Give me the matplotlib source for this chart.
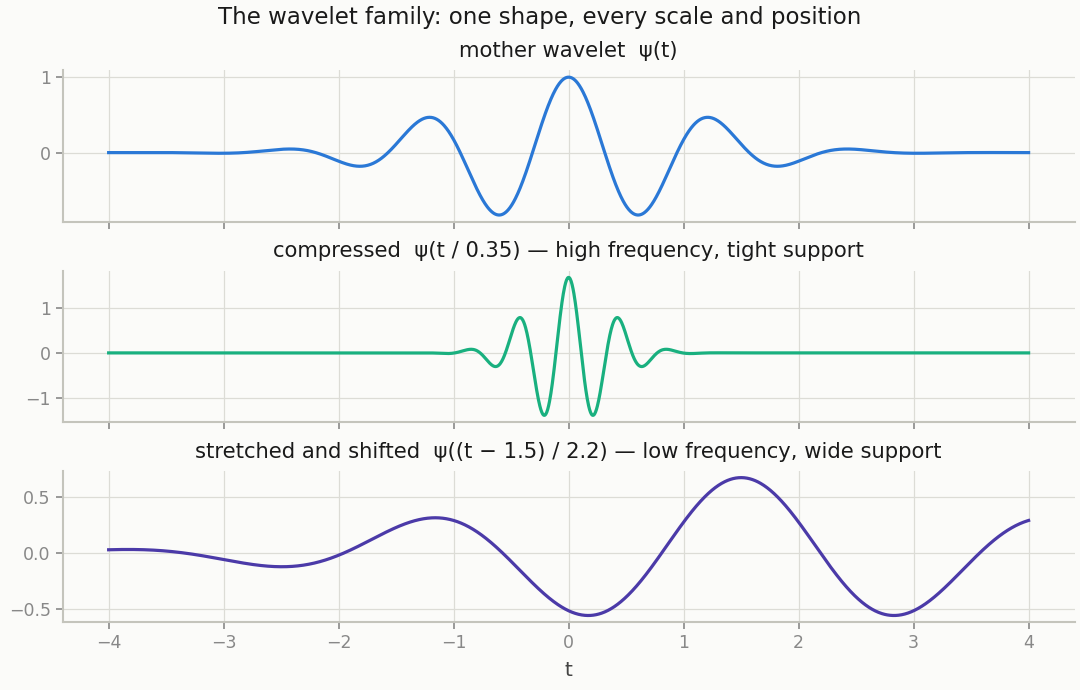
import numpy as np
import matplotlib
matplotlib.use("Agg")
import matplotlib.pyplot as plt

plt.rcParams["font.family"] = ["DejaVu Sans"]

# Morlet-type mother wavelet: psi(t) = cos(w0 t) exp(-t^2/2)
w0 = 5.0
t_range = (-4, 4)

# (scale, shift) for each panel, amplitude normalised by 1/sqrt(scale)
scales = [1.0, 0.35, 2.2]
shifts = [0.0, 0.0, 1.5]
titles = [
    "mother wavelet  ψ(t)",
    "compressed  ψ(t / 0.35) — high frequency, tight support",
    "stretched and shifted  ψ((t − 1.5) / 2.2) — low frequency, wide support",
]
colors = ["#2a78d6", "#19b07f", "#4b3aa8"]
yticks = [[0, 1], [-1, 0, 1], [-0.5, 0.0, 0.5]]


def psi(u):
    return np.cos(w0 * u) * np.exp(-u ** 2 / 2)


t = np.linspace(t_range[0], t_range[1], 2000)

bg = "#fbfbf9"
fig, axes = plt.subplots(3, 1, figsize=(10.8, 6.9), dpi=100, sharex=True, facecolor=bg)
fig.subplots_adjust(left=0.058, right=0.995, top=0.898, bottom=0.098, hspace=0.32)

for ax, a, b, title, c, yt in zip(axes, scales, shifts, titles, colors, yticks):
    y = psi((t - b) / a) / np.sqrt(a)
    ax.set_facecolor(bg)
    ax.plot(t, y, color=c, lw=2.3)
    ax.set_title(title, fontsize=15.2, color="#1a1a1a", pad=9.5)
    ax.set_yticks(yt)
    if yt[0] == -0.5:
        ax.set_yticklabels(["−0.5", "0.0", "0.5"])
    ax.grid(True, color="#dcdcd6", lw=0.9)
    ax.set_axisbelow(True)
    for s in ["top", "right"]:
        ax.spines[s].set_visible(False)
    for s in ["left", "bottom"]:
        ax.spines[s].set_color("#c4c4bc")
        ax.spines[s].set_linewidth(1.5)
    ax.tick_params(colors="#888888", labelsize=12.5, length=5, width=1.2,
                   labelcolor="#888888")

axes[0].set_ylim(-0.92, 1.09)
axes[-1].set_xticks(np.arange(-4, 5, 1))
axes[-1].set_xlabel("t", fontsize=14.5, color="#444444", labelpad=6)

fig.suptitle("The wavelet family: one shape, every scale and position",
             fontsize=16.5, y=0.992, color="#1a1a1a")

fig.savefig("out.png", dpi=100, facecolor=bg)
